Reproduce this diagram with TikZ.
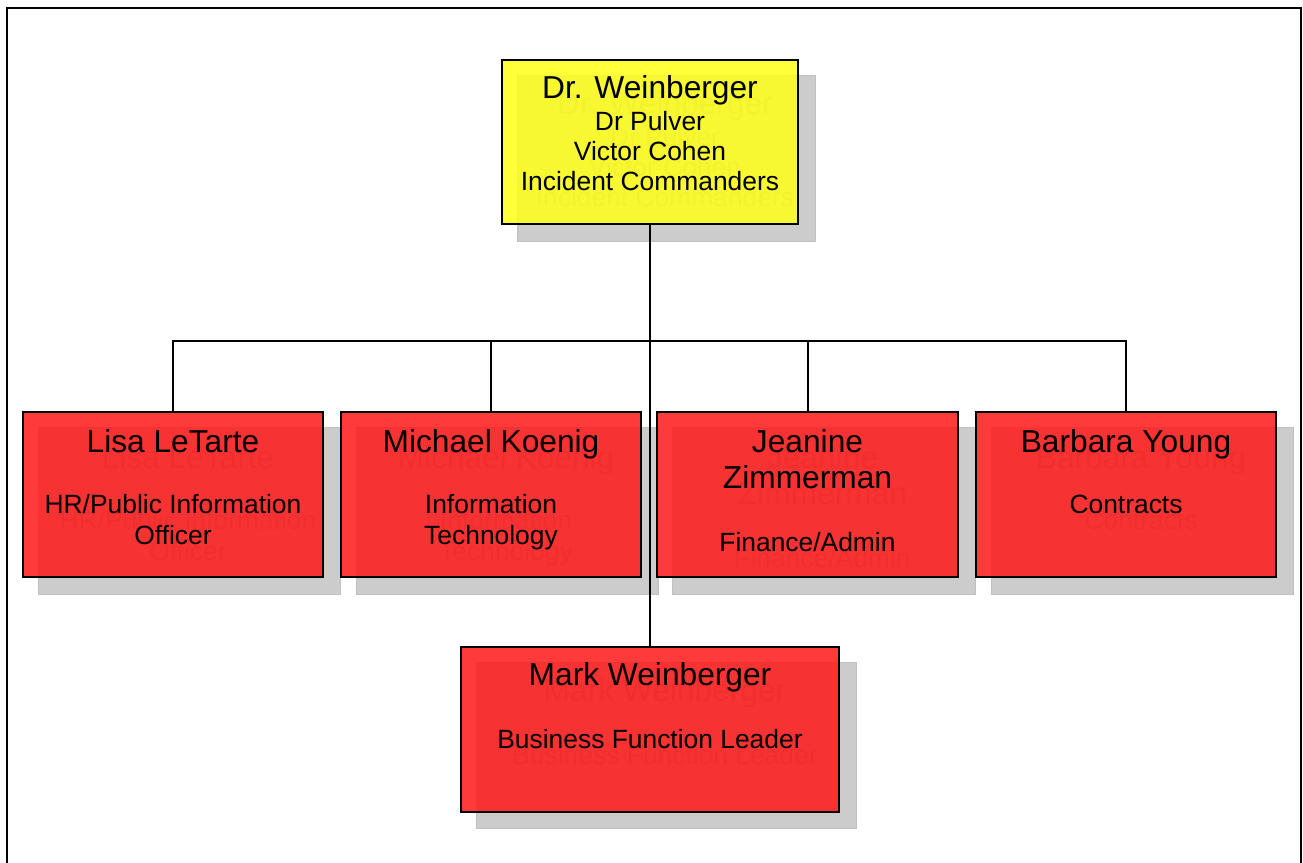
\documentclass[tikz,border=0pt]{standalone}
\usepackage{fontspec}
\setmainfont{Liberation Sans}
\definecolor{boxred}{RGB}{255,24,24}
\definecolor{boxyellow}{RGB}{255,255,24}
\definecolor{shadowgray}{RGB}{204,204,204}
\definecolor{shadowedge}{RGB}{192,192,192}
\definecolor{ghostgray}{RGB}{150,150,150}
\newcommand\nmfont{\fontsize{31.7}{36}\selectfont}
\newcommand\subfont{\fontsize{26.4}{30}\selectfont}
\tikzset{
  orgbox/.style={rectangle, draw=black, line width=2pt, fill opacity=0.85, draw opacity=1, text opacity=1, inner sep=0pt},
  redbox/.style={orgbox, fill=boxred},
  yelbox/.style={orgbox, fill=boxyellow},
  shadowrect/.style={fill=shadowgray, draw=shadowedge, line width=0.8pt},
  nametxt/.style={anchor=base, inner sep=0pt, font=\nmfont},
  subtxt/.style={anchor=base, inner sep=0pt, font=\subfont},
  ghost/.style={text=ghostgray, opacity=0.6},
  conn/.style={draw=black, line width=2pt},
  frame/.style={draw=black, line width=2pt},
}
\begin{document}
\begin{tikzpicture}[x=1pt, y=-1pt]
\useasboundingbox (0,0) rectangle (1303,862);
\fill[white] (0,0) rectangle (1303,862);
% outer frame
\draw[frame] (7,870) -- (7,8) -- (1301,8) -- (1301,870);

% ---------- shadows ----------
\draw[shadowrect] (517,75) rectangle (815,241);
\draw[shadowrect] (38,427) rectangle (340,594);
\draw[shadowrect] (356,427) rectangle (658,594);
\draw[shadowrect] (672,427) rectangle (975,594);
\draw[shadowrect] (991,427) rectangle (1293,594);
\draw[shadowrect] (476,662) rectangle (856,828);

% ghost texts in shadows
\node[nametxt, ghost] (gtop1) at (665,114) {Dr. Weinberger};
\node[subtxt, ghost] (gtop2) at (665,146) {Dr Pulver};
\node[subtxt, ghost] (gtop3) at (665,176) {Victor Cohen};
\node[subtxt, ghost] (gtop4) at (665,206) {Incident Commanders};
\node[nametxt, ghost] (glisa1) at (188,468) {Lisa LeTarte};
\node[subtxt, ghost] (glisa2) at (188,529) {HR/Public Information};
\node[subtxt, ghost] (glisa3) at (188,560) {Officer};
\node[nametxt, ghost] (gmich1) at (506,468) {Michael Koenig};
\node[subtxt, ghost] (gmich2) at (506,529) {Information};
\node[subtxt, ghost] (gmich3) at (506,560) {Technology};
\node[nametxt, ghost] (gjean1) at (822.5,468) {Jeanine};
\node[nametxt, ghost] (gjean2) at (822.5,504) {Zimmerman};
\node[subtxt, ghost] (gjean3) at (822.5,567) {Finance/Admin};
\node[nametxt, ghost] (gbarb1) at (1141,468) {Barbara Young};
\node[subtxt, ghost] (gbarb2) at (1141,529) {Contracts};
\node[nametxt, ghost] (gmark1) at (665,701) {Mark Weinberger};
\node[subtxt, ghost] (gmark2) at (665,764) {Business Function Leader};

% ---------- boxes ----------
\node[yelbox, minimum width=296pt, minimum height=164pt] (top) at (650,142) {};
\node[redbox, minimum width=300pt, minimum height=165pt] (lisa) at (173,494.5) {};
\node[redbox, minimum width=300pt, minimum height=165pt] (michael) at (491,494.5) {};
\node[redbox, minimum width=301pt, minimum height=165pt] (jeanine) at (807.5,494.5) {};
\node[redbox, minimum width=300pt, minimum height=165pt] (barbara) at (1126,494.5) {};
\node[redbox, minimum width=378pt, minimum height=165pt] (mark) at (650,729.5) {};

% ---------- connectors ----------
\coordinate (bar) at (650,341);
\draw[conn] (top.south) -- (mark.north);
\draw[conn] (lisa.north) |- (bar) -| (barbara.north);
\draw[conn] (michael.north) -- (michael.north |- bar);
\draw[conn] (jeanine.north) -- (jeanine.north |- bar);

% ---------- texts ----------
\node[nametxt] (top1) at (650,98) {Dr. Weinberger};
\node[subtxt] (top2) at (650,130) {Dr Pulver};
\node[subtxt] (top3) at (650,160) {Victor Cohen};
\node[subtxt] (top4) at (650,190) {Incident Commanders};
\node[nametxt] (lisa1) at (173,452) {Lisa LeTarte};
\node[subtxt] (lisa2) at (173,513) {HR/Public Information};
\node[subtxt] (lisa3) at (173,544) {Officer};
\node[nametxt] (mich1) at (491,452) {Michael Koenig};
\node[subtxt] (mich2) at (491,513) {Information};
\node[subtxt] (mich3) at (491,544) {Technology};
\node[nametxt] (jean1) at (807.5,452) {Jeanine};
\node[nametxt] (jean2) at (807.5,488) {Zimmerman};
\node[subtxt] (jean3) at (807.5,551) {Finance/Admin};
\node[nametxt] (barb1) at (1126,452) {Barbara Young};
\node[subtxt] (barb2) at (1126,513) {Contracts};
\node[nametxt] (mark1) at (650,685) {Mark Weinberger};
\node[subtxt] (mark2) at (650,748) {Business Function Leader};
\end{tikzpicture}
\end{document}
